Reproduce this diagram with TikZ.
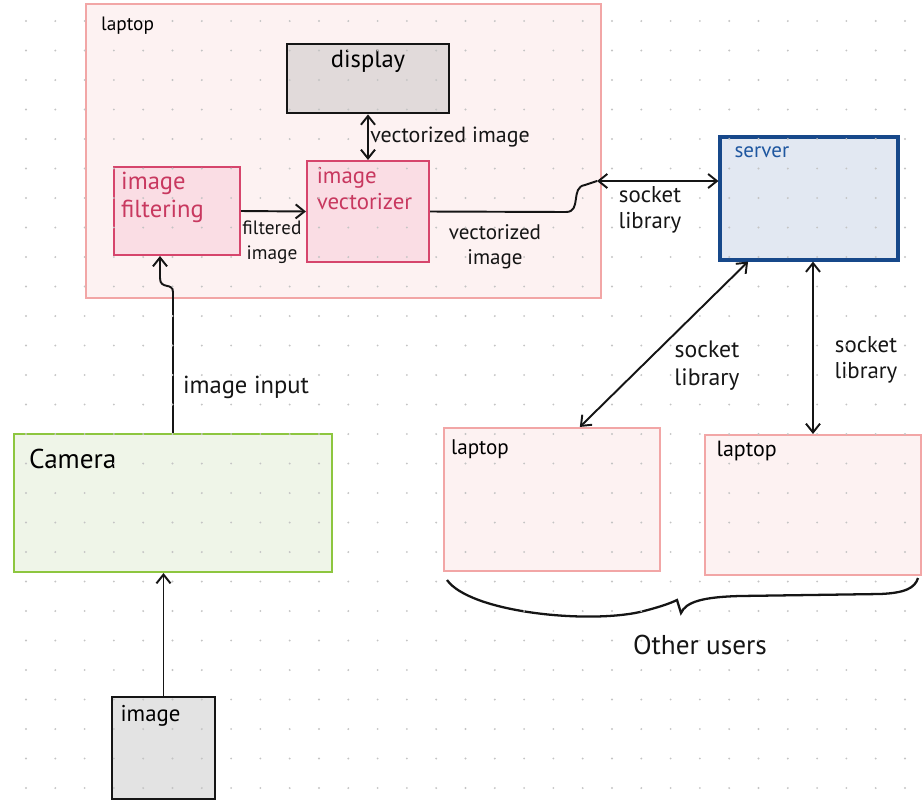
\documentclass[tikz,border=0pt]{standalone}
\usepackage{fontspec}
\setmainfont{PT Sans}
\usetikzlibrary{arrows.meta}
\definecolor{lapfill}{HTML}{FDF2F2}
\definecolor{lapdraw}{HTML}{F2A6A6}
\definecolor{dispfill}{HTML}{E1DADA}
\definecolor{procfill}{HTML}{FADDE4}
\definecolor{procdraw}{HTML}{D6456C}
\definecolor{proctext}{HTML}{C8385F}
\definecolor{servfill}{HTML}{E2E8F2}
\definecolor{servdraw}{HTML}{17488A}
\definecolor{servtext}{HTML}{1F57A0}
\definecolor{camfill}{HTML}{EFF5E8}
\definecolor{camdraw}{HTML}{8DC63F}
\definecolor{imgfill}{HTML}{E3E3E3}
\definecolor{ink}{HTML}{151515}
\definecolor{dotc}{HTML}{C4C4C4}
\begin{document}
\begin{tikzpicture}[x=0.02cm, y=-0.02cm, >={Straight Barb[length=5pt,width=8pt]},
        box/.style={rectangle, inner sep=0pt, line width=1.2pt},
        laptop/.style={box, fill=lapfill, draw=lapdraw},
        dark/.style={box, fill=dispfill, draw=ink, line width=1.6pt},
        proc/.style={box, fill=procfill, draw=procdraw},
        title/.style={anchor=north west, align=left, inner sep=0pt, font=\fontsize{12}{14}\selectfont},
        note/.style={align=center, inner sep=0pt, text=ink, font=\fontsize{12}{14}\selectfont},
        sock/.style={note, font=\fontsize{13}{15}\selectfont},
        link/.style={draw=ink, line width=1.1pt}]
            \useasboundingbox (0, 0) rectangle (924, 799);

            \node[laptop, minimum width=10.3cm, minimum height=5.88cm, label={[title, font=\fontsize{11}{13}\selectfont, xshift=9pt, yshift=-8pt]north west:laptop}] at (343.5, 151) (lap) {};
            \node[dark, minimum width=3.24cm, minimum height=1.38cm, label={[title, anchor=north, font=\fontsize{14}{16}\selectfont, yshift=-4pt]north:display}] at (368, 78.5) (disp) {};
            \node[proc, minimum width=2.52cm, minimum height=1.76cm, label={[title, text=proctext, font=\fontsize{14}{16}\selectfont, xshift=4.5pt, yshift=-3pt]north west:image\\filtering}] at (177, 211) (filt) {};
            \node[proc, minimum width=2.44cm, minimum height=2.02cm, label={[title, text=proctext, font=\fontsize{13}{15}\selectfont, xshift=6pt, yshift=-4pt]north west:image\\vectorizer}] at (368, 211.5) (vect) {};

            \node[box, fill=servfill, draw=servdraw, line width=1.8pt, minimum width=3.56cm, minimum height=2.46cm, label={[title, text=servtext, xshift=9pt, yshift=-6pt]north west:server}] at (809, 198.5) (serv) {};

            \node[laptop, minimum width=4.32cm, minimum height=2.86cm, label={[title, xshift=4.5pt, yshift=-7pt]north west:laptop}] at (552, 499.5) (lapA) {};
            \node[laptop, minimum width=4.32cm, minimum height=2.8cm, label={[title, font=\fontsize{12.5}{14}\selectfont, xshift=7pt, yshift=-4pt]north west:laptop}] at (813, 505) (lapB) {};

            \node[box, fill=camfill, draw=camdraw, minimum width=6.36cm, minimum height=2.76cm, label={[title, font=\fontsize{15.5}{17}\selectfont, xshift=9pt, yshift=-9pt]north west:Camera}] at (173, 503) (cam) {};
            \node[dark, fill=imgfill, minimum width=2.06cm, minimum height=2.04cm, label={[title, font=\fontsize{13}{15}\selectfont, xshift=5.5pt, yshift=-5.5pt]north west:image}] at (163.5, 748) (img) {};

            \node[note, font=\fontsize{11}{14}\selectfont] at (272, 242) (filtLbl) {filtered\\image};
            \node[note, anchor=west, font=\fontsize{12.5}{14}\selectfont] at (370, 137) (dispLbl) {vectorized image};
            \node[note] at (495, 247) (vectLbl) {vectorized\\image};
            \node[sock] at (650, 210) (sockA) {socket\\library};
            \node[sock, font=\fontsize{13.5}{16}\selectfont] at (707, 366) (sockB) {socket\\library};
            \node[sock] at (866, 360) (sockC) {socket\\library};
            \node[note, font=\fontsize{14}{16}\selectfont] at (246, 387) (inLbl) {image input};
            \node[note, font=\fontsize{15.5}{17}\selectfont] at (700, 645) (usrLbl) {Other users};

            \coordinate (sock) at (597, 181);
            \coordinate (kink) at (160, 278);

            \draw[link, <->](disp.south) -- (vect.north);
            \draw[link, ->](filt.east) -- (vect.west);
            \draw[link](vect.east) -- (566, 212) .. controls (582, 212) and (570, 187) .. (585, 185) -- (sock);
            \draw[link, <->](sock) -- (serv.west |- sock);
            \draw[link, <->](serv.226) -- (lapA.69);
            \draw[link, <->](lapB.north |- serv.south) -- (lapB.north);
            \draw[link, ->](cam.north) -- (173, 292) .. controls (173, 282) and (160, 290) .. (kink) -- (kink |- filt.south);
            \draw[link, ->](img.north) -- (cam.south -| img.north);

            \draw[link, line width=1.3pt] (447, 580) .. controls (470, 612) and (585, 624) .. (640, 612) .. controls (660, 607) and (671, 603) .. (677, 600) -- (681, 613) .. controls (686, 602) and (702, 597) .. (740, 596) -- (880, 594) .. controls (905, 593) and (915, 588) .. (918, 578);

            \foreach \i in {0,...,31} {
                \foreach \j in {0,...,26} {
                    \fill[dotc] (26+29.3*\i, 21+29.5*\j) circle (0.6pt);
                }
            }
        \end{tikzpicture}
\end{document}
